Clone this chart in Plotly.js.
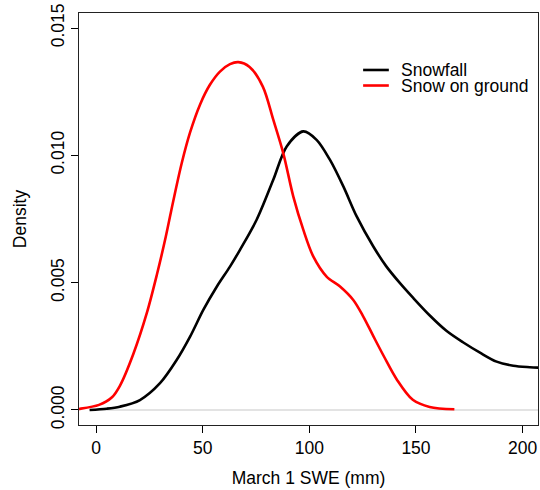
<!DOCTYPE html>
<html>
<head>
<meta charset="utf-8">
<script src="https://cdn.plot.ly/plotly-3.0.1.min.js"></script>
<style>html,body{margin:0;padding:0;background:#fff;}#chart{width:540px;height:490px;}</style>
</head>
<body>
<div id="chart"></div>
<script>
// Snowfall density curve (March 1 SWE, mm)
const snowfallX = [-3, 5, 11.2, 20.6, 30, 37.8, 44.1, 50.3, 56.6, 62.8, 67.5, 75.3, 83.1, 89.4, 97.2, 103.4, 109.7, 116, 122.2, 130, 136, 142.5, 148.7, 156.6, 164.4, 172.2, 180, 187.8, 195.6, 203.4, 210];
const snowfallY = [0.0000, 0.00005, 0.00013, 0.00039, 0.00105, 0.00196, 0.00288, 0.00393, 0.00484, 0.00563, 0.00629, 0.00747, 0.00904, 0.01035, 0.01094, 0.01061, 0.00982, 0.00877, 0.0076, 0.00642, 0.00565, 0.00498, 0.0044, 0.0037, 0.0031, 0.00265, 0.00225, 0.0019, 0.00174, 0.00168, 0.00165];
// Snow on ground density curve
const groundX = [-10, -8, 1.4, 7.5, 11.2, 17.5, 23.8, 28.5, 32.7, 36.2, 40.2, 44.1, 48.8, 53.4, 58.1, 62.8, 66.7, 72, 78.2, 83.1, 87.8, 92.5, 97.2, 101.9, 108.1, 114.4, 120.6, 125.3, 130, 135, 141, 148.5, 156.4, 168];
const groundY = [0.00002, 0.00004, 0.0002, 0.0005, 0.00095, 0.0022, 0.0038, 0.0053, 0.0068, 0.0082, 0.0097, 0.0109, 0.0120, 0.01277, 0.01329, 0.01358, 0.01366, 0.01347, 0.0127, 0.0114, 0.01008, 0.00838, 0.00707, 0.00602, 0.00524, 0.00485, 0.00432, 0.00367, 0.0029, 0.0021, 0.0012, 0.0004, 0.00012, 0.00003];
// Reference line at zero
const zeroX = [-3, 210];
const zeroY = [0, 0];
const seriesNames = ["Snowfall", "Snow on ground"];
const xTicks = [0, 50, 100, 150, 200];
const yTicks = [0, 0.005, 0.010, 0.015];
const yTickText = ["0.000", "0.005", "0.010", "0.015"];

const FONT = "Liberation Sans, Arial, Helvetica, sans-serif";
const FS = 17.5;

const traces = [
  {x: zeroX, y: zeroY, mode: "lines", line: {color: "#c8c8c8", width: 1.2}, showlegend: false, hoverinfo: "skip"},
  {x: snowfallX, y: snowfallY, name: seriesNames[0], mode: "lines", line: {color: "#000000", width: 2.6, shape: "spline", smoothing: 0.9}, showlegend: false},
  {x: groundX, y: groundY, name: seriesNames[1], mode: "lines", line: {color: "#ff0000", width: 2.6, shape: "spline", smoothing: 0.9}, showlegend: false}
];

const legY = [0.8617, 0.8240];
const legColors = ["#000000", "#ff0000"];
const shapes = legColors.map((c, i) => ({type: "line", xref: "paper", yref: "paper", x0: 0.619, x1: 0.675, y0: legY[i], y1: legY[i], line: {color: c, width: 2.6}}));
const annotations = seriesNames.map((n, i) => ({text: n, xref: "paper", yref: "paper", x: 0.697, y: legY[i], xanchor: "left", yanchor: "middle", showarrow: false, font: {family: FONT, size: FS, color: "#000"}}));

const layout = {
  width: 540, height: 490,
  margin: {l: 79, r: 2, t: 13, b: 65},
  paper_bgcolor: "#fff", plot_bgcolor: "#fff",
  font: {family: FONT, size: FS, color: "#000"},
  xaxis: {
    range: [-7.97, 207.2], tickvals: xTicks, ticks: "outside", ticklen: 7, tickwidth: 1, tickcolor: "#000",
    showline: true, mirror: true, linecolor: "#222", linewidth: 1, showgrid: false, zeroline: false,
    tickfont: {family: FONT, size: FS, color: "#000"},
    title: {text: "March 1 SWE (mm)", font: {family: FONT, size: FS, color: "#000"}, standoff: 14}
  },
  yaxis: {
    range: [-0.00059, 0.01559], tickvals: yTicks, ticktext: yTickText, tickangle: -90,
    ticks: "outside", ticklen: 7, tickwidth: 1, tickcolor: "#000",
    showline: true, mirror: true, linecolor: "#222", linewidth: 1, showgrid: false, zeroline: false,
    tickfont: {family: FONT, size: FS, color: "#000"},
    title: {text: "Density", font: {family: FONT, size: FS, color: "#000"}, standoff: 16}
  },
  shapes: shapes,
  annotations: annotations,
  showlegend: false
};

Plotly.newPlot("chart", traces, layout, {displayModeBar: false, staticPlot: true});
</script>
</body>
</html>
